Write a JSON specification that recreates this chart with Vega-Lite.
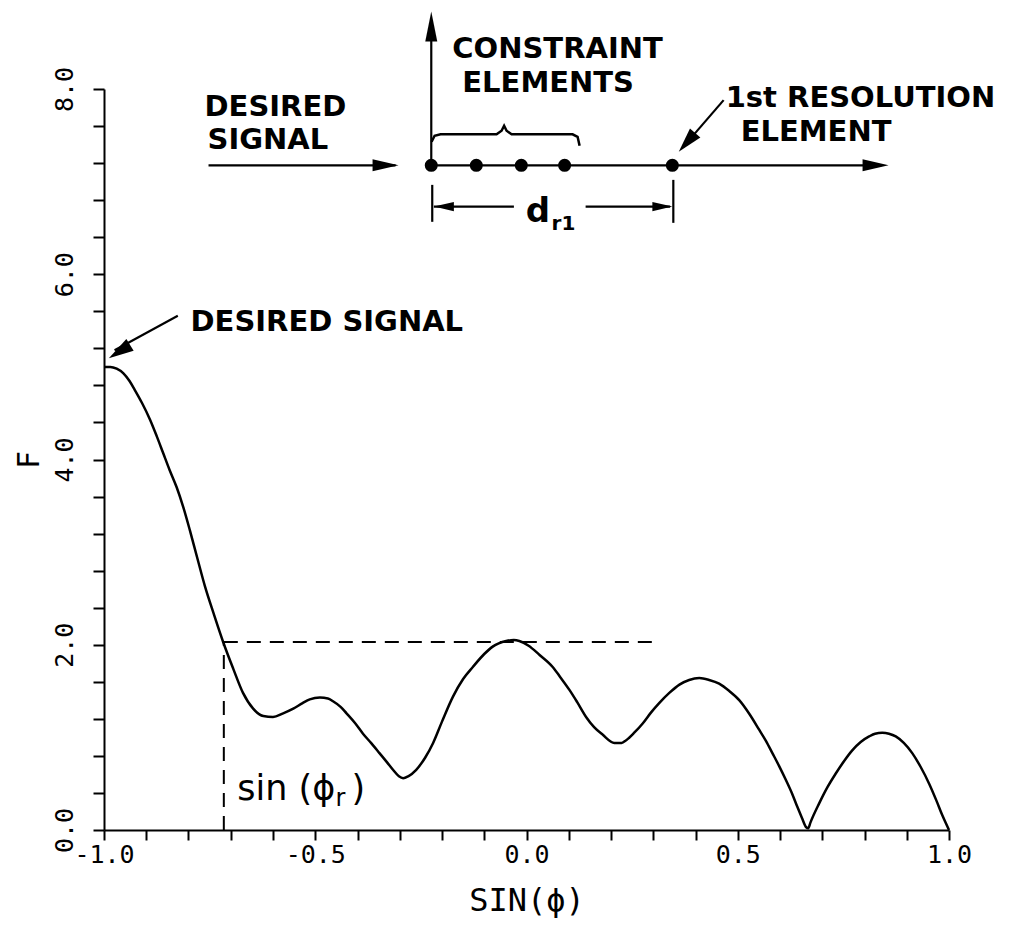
{
  "$schema": "https://vega.github.io/schema/vega-lite/v6.json",
  "width": 845,
  "height": 741,
  "autosize": {"type": "none"},
  "padding": {"left": 104, "top": 89, "right": 78, "bottom": 100},
  "background": "white",
  "config": {
    "view": {"stroke": null},
    "axis": {
      "grid": false,
      "domainColor": "black",
      "domainWidth": 2,
      "tickColor": "black",
      "tickWidth": 2,
      "labelColor": "black",
      "titleColor": "black",
      "labelFont": "DejaVu Sans Mono",
      "titleFont": "DejaVu Sans Mono",
      "labelFontSize": 25,
      "titleFontWeight": "normal",
      "labelOverlap": false,
      "labelFlush": false
    }
  },
  "datasets": {
    "curve": [
      {"s": -1.0, "F": 5.0}, {"s": -0.985, "F": 5.0}, {"s": -0.97, "F": 4.98}, {"s": -0.954, "F": 4.93},
      {"s": -0.94, "F": 4.85}, {"s": -0.927, "F": 4.75}, {"s": -0.91, "F": 4.61}, {"s": -0.891, "F": 4.43},
      {"s": -0.875, "F": 4.25}, {"s": -0.86, "F": 4.07}, {"s": -0.845, "F": 3.89}, {"s": -0.828, "F": 3.7},
      {"s": -0.812, "F": 3.48}, {"s": -0.797, "F": 3.24}, {"s": -0.78, "F": 2.95}, {"s": -0.761, "F": 2.63},
      {"s": -0.74, "F": 2.33}, {"s": -0.718, "F": 2.03}, {"s": -0.694, "F": 1.74}, {"s": -0.671, "F": 1.48},
      {"s": -0.647, "F": 1.31}, {"s": -0.623, "F": 1.23}, {"s": -0.6, "F": 1.22}, {"s": -0.576, "F": 1.26},
      {"s": -0.552, "F": 1.31}, {"s": -0.53, "F": 1.37}, {"s": -0.513, "F": 1.41}, {"s": -0.489, "F": 1.43},
      {"s": -0.47, "F": 1.42}, {"s": -0.458, "F": 1.39}, {"s": -0.44, "F": 1.33}, {"s": -0.426, "F": 1.26},
      {"s": -0.405, "F": 1.15}, {"s": -0.387, "F": 1.04}, {"s": -0.368, "F": 0.94}, {"s": -0.348, "F": 0.83},
      {"s": -0.33, "F": 0.73}, {"s": -0.316, "F": 0.65}, {"s": -0.302, "F": 0.58}, {"s": -0.292, "F": 0.56},
      {"s": -0.28, "F": 0.58}, {"s": -0.261, "F": 0.65}, {"s": -0.24, "F": 0.78}, {"s": -0.221, "F": 0.94},
      {"s": -0.2, "F": 1.17}, {"s": -0.174, "F": 1.44}, {"s": -0.15, "F": 1.63}, {"s": -0.127, "F": 1.76},
      {"s": -0.1, "F": 1.9}, {"s": -0.08, "F": 1.98}, {"s": -0.048, "F": 2.04}, {"s": -0.03, "F": 2.05},
      {"s": -0.017, "F": 2.04}, {"s": 0.005, "F": 1.99}, {"s": 0.031, "F": 1.89}, {"s": 0.062, "F": 1.76},
      {"s": 0.08, "F": 1.65}, {"s": 0.102, "F": 1.51}, {"s": 0.12, "F": 1.38}, {"s": 0.141, "F": 1.22},
      {"s": 0.16, "F": 1.11}, {"s": 0.18, "F": 1.03}, {"s": 0.208, "F": 0.94}, {"s": 0.225, "F": 0.94},
      {"s": 0.236, "F": 0.97}, {"s": 0.255, "F": 1.05}, {"s": 0.275, "F": 1.15}, {"s": 0.295, "F": 1.27},
      {"s": 0.314, "F": 1.37}, {"s": 0.338, "F": 1.48}, {"s": 0.362, "F": 1.57}, {"s": 0.385, "F": 1.62},
      {"s": 0.409, "F": 1.64}, {"s": 0.432, "F": 1.62}, {"s": 0.456, "F": 1.58}, {"s": 0.48, "F": 1.5},
      {"s": 0.504, "F": 1.4}, {"s": 0.528, "F": 1.25}, {"s": 0.551, "F": 1.08}, {"s": 0.567, "F": 0.96},
      {"s": 0.582, "F": 0.83}, {"s": 0.598, "F": 0.69}, {"s": 0.614, "F": 0.54}, {"s": 0.628, "F": 0.4},
      {"s": 0.641, "F": 0.25}, {"s": 0.652, "F": 0.13}, {"s": 0.662, "F": 0.03}, {"s": 0.667, "F": 0.02},
      {"s": 0.672, "F": 0.08}, {"s": 0.693, "F": 0.29}, {"s": 0.712, "F": 0.46}, {"s": 0.732, "F": 0.61},
      {"s": 0.751, "F": 0.74}, {"s": 0.771, "F": 0.86}, {"s": 0.791, "F": 0.95}, {"s": 0.811, "F": 1.01},
      {"s": 0.825, "F": 1.04}, {"s": 0.842, "F": 1.05}, {"s": 0.858, "F": 1.04}, {"s": 0.874, "F": 1.01},
      {"s": 0.893, "F": 0.94}, {"s": 0.913, "F": 0.83}, {"s": 0.933, "F": 0.68}, {"s": 0.953, "F": 0.5},
      {"s": 0.97, "F": 0.32}, {"s": 0.985, "F": 0.15}, {"s": 1.0, "F": 0.0}
    ],
    "dashed": [
      {"x1": -0.7164, "y1": 2.03, "x2": 0.298, "y2": 2.03},
      {"x1": -0.7164, "y1": 0, "x2": -0.7164, "y2": 2.03}
    ],
    "segments": [
      {"x1": -0.2254, "y1": 7.176, "x2": -0.2254, "y2": 8.75},
      {"x1": -0.7526, "y1": 7.176, "x2": -0.31, "y2": 7.176},
      {"x1": -0.2254, "y1": 7.176, "x2": 0.84, "y2": 7.176},
      {"x1": -0.2231, "y1": 6.965, "x2": -0.2231, "y2": 6.566},
      {"x1": 0.3475, "y1": 7.019, "x2": 0.3475, "y2": 6.555},
      {"x1": -0.2192, "y1": 6.731, "x2": -0.0298, "y2": 6.731},
      {"x1": 0.1399, "y1": 6.731, "x2": 0.34, "y2": 6.731},
      {"x1": 0.4666, "y1": 7.88, "x2": 0.37, "y2": 7.37},
      {"x1": -0.8253, "y1": 5.551, "x2": -0.975, "y2": 5.18}
    ],
    "brace": [
      {"i": 0, "x": -0.2246, "y": 7.43}, {"i": 1, "x": -0.2175, "y": 7.495}, {"i": 2, "x": -0.2034, "y": 7.511},
      {"i": 3, "x": -0.0708, "y": 7.511}, {"i": 4, "x": -0.059, "y": 7.549}, {"i": 5, "x": -0.053, "y": 7.603},
      {"i": 6, "x": -0.0471, "y": 7.549}, {"i": 7, "x": -0.0353, "y": 7.511}, {"i": 8, "x": 0.1091, "y": 7.511},
      {"i": 9, "x": 0.1209, "y": 7.484}, {"i": 10, "x": 0.1257, "y": 7.387}
    ],
    "dots": [
      {"x": -0.2254, "y": 7.176}, {"x": -0.1188, "y": 7.176}, {"x": -0.0123, "y": 7.176},
      {"x": 0.0902, "y": 7.176}, {"x": 0.3452, "y": 7.176}
    ],
    "headUp": [{"x": -0.2254, "y": 8.837}],
    "headRightBig": [{"x": -0.3028, "y": 7.176}, {"x": 0.857, "y": 7.176}],
    "headRightSmall": [{"x": 0.3452, "y": 6.731}],
    "headLeftSmall": [{"x": -0.2192, "y": 6.731}],
    "headDesired": [{"x": -0.9886, "y": 5.094}],
    "headResolution": [{"x": 0.3604, "y": 7.322}],
    "notes": [
      {"t": "DESIRED SIGNAL", "x": -0.7952, "y": 5.389},
      {"t": "DESIRED", "x": -0.7621, "y": 7.711},
      {"t": "SIGNAL", "x": -0.755, "y": 7.354},
      {"t": "CONSTRAINT", "x": -0.1757, "y": 8.33},
      {"t": "ELEMENTS", "x": -0.152, "y": 7.97},
      {"t": "1st RESOLUTION", "x": 0.4714, "y": 7.81},
      {"t": "ELEMENT", "x": 0.5069, "y": 7.44}
    ],
    "dLabel": [{"t": "d", "x": -0.002, "y": 6.566}],
    "dSub": [{"t": "r1", "x": 0.0594, "y": 6.479}],
    "sinMain": [{"t": "sin (ϕ", "x": -0.6847, "y": 0.324}, {"t": ")", "x": -0.4141, "y": 0.324}],
    "sinSub": [{"t": "r", "x": -0.4522, "y": 0.259}]
  },
  "layer": [
    {
      "data": {"name": "curve"},
      "mark": {"type": "line", "color": "black", "strokeWidth": 2.5, "interpolate": "monotone"},
      "encoding": {
        "x": {
          "field": "s", "type": "quantitative", "title": "SIN(ϕ)",
          "scale": {"domain": [-1, 1], "nice": false, "zero": false},
          "axis": {
            "orient": "bottom",
            "values": [-1, -0.9, -0.8, -0.7, -0.6, -0.5, -0.4, -0.3, -0.2, -0.1, 0, 0.1, 0.2, 0.3, 0.4, 0.5, 0.6, 0.7, 0.8, 0.9, 1],
            "tickCount": 40,
            "labelExpr": "abs(datum.value*2-round(datum.value*2))<0.001 ? replace(format(datum.value, '.1f'), '\u2212', '-') : ''",
            "labelOverlap": false,
            "tickSize": 10,
            "labelPadding": 2,
            "labelAlign": "center",
            "labelBaseline": "top",
            "titleFontSize": 32,
            "titlePadding": 18,
            "encode": {"ticks": {"update": {"y2": {"signal": "abs(datum.value*2-round(datum.value*2))<0.001 ? 16 : 10"}}}}
          }
        },
        "y": {
          "field": "F", "type": "quantitative", "title": "F",
          "scale": {"domain": [0, 8], "nice": false, "zero": false},
          "axis": {
            "orient": "left",
            "values": [0, 0.4, 0.8, 1.2, 1.6, 2, 2.4, 2.8, 3.2, 3.6, 4, 4.4, 4.8, 5.2, 5.6, 6, 6.4, 6.8, 7.2, 7.6, 8],
            "tickCount": 40,
            "labelExpr": "abs(datum.value/2-round(datum.value/2))<0.001 ? format(datum.value, '.1f') : ''",
            "labelOverlap": false,
            "tickSize": 11,
            "labelPadding": 16,
            "labelAngle": 270,
            "labelAlign": "center",
            "labelBaseline": "bottom",
            "titleFontSize": 30,
            "titlePadding": 8,
            "encode": {"ticks": {"update": {"x2": {"signal": "abs(datum.value/2-round(datum.value/2))<0.001 ? -19 : -11"}}}}
          }
        }
      }
    },
    {
      "data": {"name": "dashed"},
      "mark": {"type": "rule", "color": "black", "strokeWidth": 2, "strokeDash": [14, 9]},
      "encoding": {
        "x": {"field": "x1", "type": "quantitative", "title": "SIN(ϕ)", "scale": {"domain": [-1, 1], "nice": false, "zero": false}},
        "y": {"field": "y1", "type": "quantitative", "title": "F", "scale": {"domain": [0, 8], "nice": false, "zero": false}},
        "x2": {"field": "x2"},
        "y2": {"field": "y2"}
      }
    },
    {
      "data": {"name": "segments"},
      "mark": {"type": "rule", "color": "black", "strokeWidth": 2.2},
      "encoding": {
        "x": {"field": "x1", "type": "quantitative", "title": "SIN(ϕ)", "scale": {"domain": [-1, 1], "nice": false, "zero": false}},
        "y": {"field": "y1", "type": "quantitative", "title": "F", "scale": {"domain": [0, 8], "nice": false, "zero": false}},
        "x2": {"field": "x2"},
        "y2": {"field": "y2"}
      }
    },
    {
      "data": {"name": "brace"},
      "mark": {"type": "line", "color": "black", "strokeWidth": 2.5},
      "encoding": {
        "x": {"field": "x", "type": "quantitative", "title": "SIN(ϕ)", "scale": {"domain": [-1, 1], "nice": false, "zero": false}},
        "y": {"field": "y", "type": "quantitative", "title": "F", "scale": {"domain": [0, 8], "nice": false, "zero": false}},
        "order": {"field": "i"}
      }
    },
    {
      "data": {"name": "dots"},
      "mark": {"type": "point", "shape": "circle", "filled": true, "color": "black", "opacity": 1, "size": 170},
      "encoding": {
        "x": {"field": "x", "type": "quantitative", "title": "SIN(ϕ)", "scale": {"domain": [-1, 1], "nice": false, "zero": false}},
        "y": {"field": "y", "type": "quantitative", "title": "F", "scale": {"domain": [0, 8], "nice": false, "zero": false}}
      }
    },
    {
      "data": {"name": "headUp"},
      "mark": {"type": "point", "shape": "M0,0L0.4,2L-0.4,2Z", "filled": true, "color": "black", "opacity": 1, "size": 900, "angle": 0},
      "encoding": {
        "x": {"field": "x", "type": "quantitative", "title": "SIN(ϕ)", "scale": {"domain": [-1, 1], "nice": false, "zero": false}},
        "y": {"field": "y", "type": "quantitative", "title": "F", "scale": {"domain": [0, 8], "nice": false, "zero": false}}
      }
    },
    {
      "data": {"name": "headRightBig"},
      "mark": {"type": "point", "shape": "M0,0L0.46,2L-0.46,2Z", "filled": true, "color": "black", "opacity": 1, "size": 676, "angle": 90},
      "encoding": {
        "x": {"field": "x", "type": "quantitative", "title": "SIN(ϕ)", "scale": {"domain": [-1, 1], "nice": false, "zero": false}},
        "y": {"field": "y", "type": "quantitative", "title": "F", "scale": {"domain": [0, 8], "nice": false, "zero": false}}
      }
    },
    {
      "data": {"name": "headRightSmall"},
      "mark": {"type": "point", "shape": "M0,0L0.46,2L-0.46,2Z", "filled": true, "color": "black", "opacity": 1, "size": 400, "angle": 90},
      "encoding": {
        "x": {"field": "x", "type": "quantitative", "title": "SIN(ϕ)", "scale": {"domain": [-1, 1], "nice": false, "zero": false}},
        "y": {"field": "y", "type": "quantitative", "title": "F", "scale": {"domain": [0, 8], "nice": false, "zero": false}}
      }
    },
    {
      "data": {"name": "headLeftSmall"},
      "mark": {"type": "point", "shape": "M0,0L0.46,2L-0.46,2Z", "filled": true, "color": "black", "opacity": 1, "size": 400, "angle": 270},
      "encoding": {
        "x": {"field": "x", "type": "quantitative", "title": "SIN(ϕ)", "scale": {"domain": [-1, 1], "nice": false, "zero": false}},
        "y": {"field": "y", "type": "quantitative", "title": "F", "scale": {"domain": [0, 8], "nice": false, "zero": false}}
      }
    },
    {
      "data": {"name": "headDesired"},
      "mark": {"type": "point", "shape": "M0,0L0.55,2L-0.55,2Z", "filled": true, "color": "black", "opacity": 1, "size": 625, "angle": 238},
      "encoding": {
        "x": {"field": "x", "type": "quantitative", "title": "SIN(ϕ)", "scale": {"domain": [-1, 1], "nice": false, "zero": false}},
        "y": {"field": "y", "type": "quantitative", "title": "F", "scale": {"domain": [0, 8], "nice": false, "zero": false}}
      }
    },
    {
      "data": {"name": "headResolution"},
      "mark": {"type": "point", "shape": "M0,0L0.55,2L-0.55,2Z", "filled": true, "color": "black", "opacity": 1, "size": 625, "angle": 221},
      "encoding": {
        "x": {"field": "x", "type": "quantitative", "title": "SIN(ϕ)", "scale": {"domain": [-1, 1], "nice": false, "zero": false}},
        "y": {"field": "y", "type": "quantitative", "title": "F", "scale": {"domain": [0, 8], "nice": false, "zero": false}}
      }
    },
    {
      "data": {"name": "notes"},
      "mark": {"type": "text", "font": "DejaVu Sans", "fontWeight": "bold", "fontSize": 29, "align": "left", "baseline": "alphabetic", "color": "black"},
      "encoding": {
        "x": {"field": "x", "type": "quantitative", "title": "SIN(ϕ)", "scale": {"domain": [-1, 1], "nice": false, "zero": false}},
        "y": {"field": "y", "type": "quantitative", "title": "F", "scale": {"domain": [0, 8], "nice": false, "zero": false}},
        "text": {"field": "t"}
      }
    },
    {
      "data": {"name": "dLabel"},
      "mark": {"type": "text", "font": "DejaVu Sans", "fontWeight": "bold", "fontSize": 34, "align": "left", "baseline": "alphabetic", "color": "black"},
      "encoding": {
        "x": {"field": "x", "type": "quantitative", "title": "SIN(ϕ)", "scale": {"domain": [-1, 1], "nice": false, "zero": false}},
        "y": {"field": "y", "type": "quantitative", "title": "F", "scale": {"domain": [0, 8], "nice": false, "zero": false}},
        "text": {"field": "t"}
      }
    },
    {
      "data": {"name": "dSub"},
      "mark": {"type": "text", "font": "DejaVu Sans", "fontWeight": "bold", "fontSize": 20, "align": "left", "baseline": "alphabetic", "color": "black"},
      "encoding": {
        "x": {"field": "x", "type": "quantitative", "title": "SIN(ϕ)", "scale": {"domain": [-1, 1], "nice": false, "zero": false}},
        "y": {"field": "y", "type": "quantitative", "title": "F", "scale": {"domain": [0, 8], "nice": false, "zero": false}},
        "text": {"field": "t"}
      }
    },
    {
      "data": {"name": "sinMain"},
      "mark": {"type": "text", "font": "DejaVu Sans", "fontSize": 35, "align": "left", "baseline": "alphabetic", "color": "black"},
      "encoding": {
        "x": {"field": "x", "type": "quantitative", "title": "SIN(ϕ)", "scale": {"domain": [-1, 1], "nice": false, "zero": false}},
        "y": {"field": "y", "type": "quantitative", "title": "F", "scale": {"domain": [0, 8], "nice": false, "zero": false}},
        "text": {"field": "t"}
      }
    },
    {
      "data": {"name": "sinSub"},
      "mark": {"type": "text", "font": "DejaVu Sans", "fontSize": 24, "align": "left", "baseline": "alphabetic", "color": "black"},
      "encoding": {
        "x": {"field": "x", "type": "quantitative", "title": "SIN(ϕ)", "scale": {"domain": [-1, 1], "nice": false, "zero": false}},
        "y": {"field": "y", "type": "quantitative", "title": "F", "scale": {"domain": [0, 8], "nice": false, "zero": false}},
        "text": {"field": "t"}
      }
    }
  ]
}
